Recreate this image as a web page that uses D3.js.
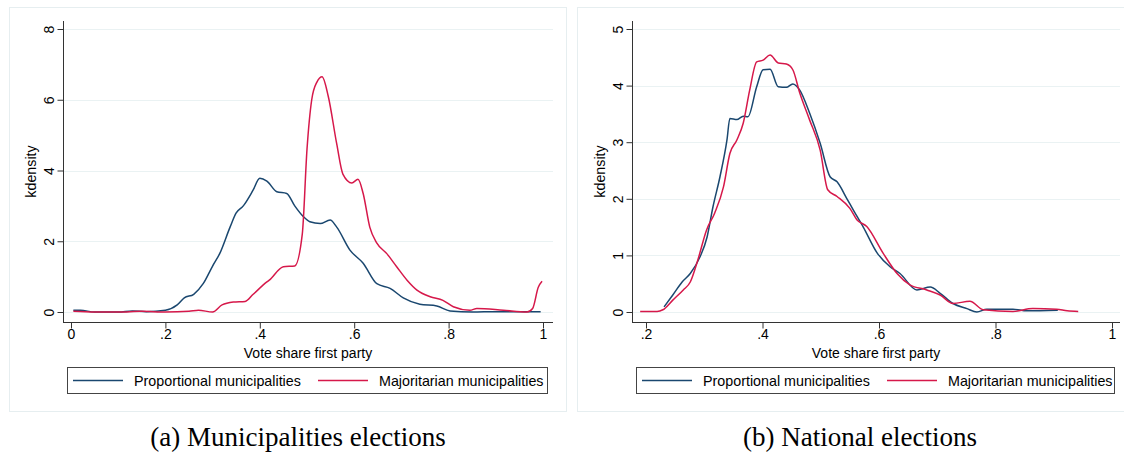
<!DOCTYPE html>
<html>
<head>
<meta charset="utf-8">
<script src="https://cdn.jsdelivr.net/npm/d3@7"></script>
<style>
  body { margin: 0; background: #fff; }
  svg { display: block; }
  text { font-family: "Liberation Sans", Arial, sans-serif; fill: #000; }
  .caption { font-family: "Liberation Serif", "DejaVu Serif", serif; font-size: 27px; }
</style>
</head>
<body>
<svg id="chart" width="1124" height="454"></svg>
<script>
// Legend labels
const seriesNames = ["Proportional municipalities", "Majoritarian municipalities"];

// (a) Municipalities elections: [vote share, kdensity]
const muniProportional = [
  [0.005, 0.05], [0.02, 0.05], [0.05, 0.0], [0.1, 0.0], [0.13, 0.03], [0.16, 0.01],
  [0.2, 0.05], [0.225, 0.2], [0.24, 0.4], [0.26, 0.5], [0.28, 0.8], [0.3, 1.3],
  [0.315, 1.65], [0.337, 2.4], [0.35, 2.8], [0.365, 3.0], [0.386, 3.45], [0.4, 3.78],
  [0.415, 3.7], [0.436, 3.4], [0.457, 3.35], [0.474, 3.0], [0.492, 2.7], [0.506, 2.55],
  [0.528, 2.5], [0.549, 2.6], [0.563, 2.4], [0.591, 1.75], [0.619, 1.38], [0.648, 0.8],
  [0.676, 0.67], [0.704, 0.4], [0.739, 0.22], [0.775, 0.17], [0.803, 0.03], [0.85, 0.0],
  [0.9, 0.01], [0.95, 0.01], [0.995, 0.01]
];
const muniMajoritarian = [
  [0.005, 0.02], [0.05, 0.0], [0.1, 0.0], [0.15, 0.02], [0.2, 0.0], [0.25, 0.02],
  [0.27, 0.05], [0.3, 0.0], [0.32, 0.2], [0.344, 0.28], [0.369, 0.3], [0.386, 0.5],
  [0.415, 0.85], [0.42, 0.9], [0.45, 1.28], [0.474, 1.3], [0.49, 2.2], [0.5, 4.6],
  [0.51, 6.0], [0.521, 6.5], [0.532, 6.65], [0.545, 6.1], [0.563, 4.75], [0.576, 3.9],
  [0.595, 3.65], [0.608, 3.75], [0.619, 3.35], [0.633, 2.4], [0.648, 1.95], [0.669, 1.65],
  [0.69, 1.28], [0.712, 0.9], [0.733, 0.62], [0.761, 0.43], [0.788, 0.33], [0.81, 0.15],
  [0.845, 0.05], [0.86, 0.1], [0.916, 0.05], [0.966, 0.0], [0.978, 0.1], [0.99, 0.7],
  [0.998, 0.87]
];

// (b) National elections
const natProportional = [
  [0.231, 0.09], [0.246, 0.3], [0.262, 0.53], [0.276, 0.68], [0.293, 0.98], [0.305, 1.33],
  [0.315, 1.86], [0.327, 2.39], [0.339, 3.04], [0.344, 3.42], [0.356, 3.4], [0.367, 3.46],
  [0.375, 3.45], [0.39, 3.98], [0.401, 4.28], [0.413, 4.29], [0.427, 3.98], [0.441, 3.97],
  [0.452, 4.03], [0.464, 3.92], [0.481, 3.51], [0.499, 2.98], [0.516, 2.39], [0.528, 2.3],
  [0.545, 2.0], [0.556, 1.8], [0.573, 1.5], [0.597, 1.04], [0.619, 0.8], [0.636, 0.68],
  [0.665, 0.39], [0.688, 0.44], [0.705, 0.33], [0.727, 0.15], [0.751, 0.06], [0.768, 0.0],
  [0.785, 0.05], [0.83, 0.05], [0.854, 0.02], [0.907, 0.03]
];
const natMajoritarian = [
  [0.19, 0.01], [0.219, 0.01], [0.229, 0.04], [0.246, 0.21], [0.264, 0.39], [0.276, 0.53],
  [0.289, 0.92], [0.304, 1.45], [0.318, 1.75], [0.333, 2.21], [0.344, 2.8], [0.356, 3.04],
  [0.367, 3.34], [0.378, 3.92], [0.39, 4.42], [0.401, 4.45], [0.413, 4.54], [0.427, 4.4],
  [0.441, 4.38], [0.452, 4.28], [0.464, 3.87], [0.481, 3.39], [0.499, 2.86], [0.512, 2.16],
  [0.528, 2.04], [0.55, 1.83], [0.562, 1.63], [0.579, 1.51], [0.607, 1.04], [0.631, 0.68],
  [0.653, 0.48], [0.682, 0.39], [0.705, 0.3], [0.727, 0.15], [0.756, 0.19], [0.779, 0.04],
  [0.83, 0.01], [0.864, 0.06], [0.905, 0.05], [0.923, 0.02], [0.942, 0.01]
];

// Tick values
const muniXTicks = [0, 0.2, 0.4, 0.6, 0.8, 1];
const muniYTicks = [0, 2, 4, 6, 8];
const natXTicks = [0.2, 0.4, 0.6, 0.8, 1];
const natYTicks = [0, 1, 2, 3, 4, 5];

const colors = ["#1a476f", "#d6184a"];
const svg = d3.select("#chart");

const fmt = d => d === 0 ? "0" : d === 1 ? "1" : d3.format(".1f")(d).replace(/^0/, "");

function drawPanel(opts) {
  const g = svg.append("g");

  // outer frame
  g.append("rect")
    .attr("x", opts.frame[0] + 0.5).attr("y", opts.frame[1] + 0.5)
    .attr("width", opts.frame[2]).attr("height", opts.frame[3])
    .attr("fill", "none").attr("stroke", "#e6eef0");

  const x = d3.scaleLinear().domain(opts.xDomain).range(opts.xRange);
  const y = d3.scaleLinear().domain(opts.yDomain).range(opts.yRange);

  // gridlines
  g.selectAll(".grid")
    .data(opts.yTicks)
    .enter().append("line")
    .attr("x1", opts.axisX).attr("x2", opts.gridEnd)
    .attr("y1", d => Math.round(y(d)) + 0.5).attr("y2", d => Math.round(y(d)) + 0.5)
    .attr("stroke", "#eaf2f3").attr("stroke-width", 1.2);

  // y axis
  const yAxis = g.append("g")
    .attr("transform", `translate(${opts.axisX + 0.5},0)`)
    .call(d3.axisLeft(y).tickValues(opts.yTicks).tickSize(6).tickPadding(7).tickFormat(d3.format("d")));
  yAxis.select(".domain").attr("d", `M0,${opts.yTop}V${opts.yRange[0] + 10}`).attr("stroke", "#333");
  yAxis.selectAll(".tick line").attr("stroke", "#333");
  yAxis.selectAll(".tick text")
    .attr("font-size", 14)
    .attr("transform", `rotate(-90,-14,0)`)
    .attr("x", -14).attr("dy", "0.35em").attr("text-anchor", "middle")
    .attr("font-family", "Liberation Sans, Arial, sans-serif");

  // x axis
  const xAxis = g.append("g")
    .attr("transform", `translate(0,${opts.axisY + 0.5})`)
    .call(d3.axisBottom(x).tickValues(opts.xTicks).tickSize(6).tickPadding(1).tickFormat(fmt));
  xAxis.select(".domain").attr("d", `M${opts.axisX},0H${opts.gridEnd}`).attr("stroke", "#333");
  xAxis.selectAll(".tick line").attr("stroke", "#333");
  xAxis.selectAll(".tick text").attr("font-size", 14)
    .attr("font-family", "Liberation Sans, Arial, sans-serif");

  // axis titles
  g.append("text")
    .attr("x", (opts.axisX + opts.gridEnd) / 2).attr("y", opts.axisY + 36)
    .attr("text-anchor", "middle").attr("font-size", 14)
    .text("Vote share first party");
  g.append("text")
    .attr("transform", `translate(${opts.axisX - 27},${(opts.yTop + opts.axisY) / 2}) rotate(-90)`)
    .attr("text-anchor", "middle").attr("font-size", 14.3)
    .text("kdensity");

  // density lines
  const line = d3.line()
    .x(d => x(d[0]))
    .y(d => y(d[1]))
    .curve(d3.curveMonotoneX);

  g.selectAll(".series")
    .data(opts.series)
    .enter().append("path")
    .attr("d", line)
    .attr("fill", "none")
    .attr("stroke", (d, i) => colors[i])
    .attr("stroke-width", 1.5)
    .attr("stroke-linejoin", "round");

  // legend
  const lg = g.append("g").attr("transform", `translate(${opts.legend[0]},${opts.legend[1]})`);
  lg.append("rect")
    .attr("x", 0.5).attr("y", 0.5).attr("width", opts.legend[2]).attr("height", 26)
    .attr("fill", "#fff").attr("stroke", "#444");
  const offsets = [6, 251];
  seriesNames.forEach((name, i) => {
    lg.append("line")
      .attr("x1", offsets[i]).attr("x2", offsets[i] + 50)
      .attr("y1", 13.5).attr("y2", 13.5)
      .attr("stroke", colors[i]).attr("stroke-width", 1.5);
    lg.append("text")
      .attr("x", offsets[i] + 61).attr("y", 14).attr("dy", "0.35em")
      .attr("font-size", 14.3)
      .text(name);
  });

  // caption
  svg.append("text")
    .attr("class", "caption")
    .attr("x", opts.captionX).attr("y", 446)
    .attr("text-anchor", "middle")
    .text(opts.caption);
}

drawPanel({
  frame: [9, 7, 557, 404],
  xDomain: [0, 1], xRange: [71, 543],
  yDomain: [0, 8], yRange: [312, 29],
  xTicks: muniXTicks, yTicks: muniYTicks,
  axisX: 63, axisY: 322, yTop: 21, gridEnd: 553,
  series: [muniProportional, muniMajoritarian],
  legend: [67, 367, 480],
  caption: "(a) Municipalities elections", captionX: 298
});

drawPanel({
  frame: [577, 7, 560, 404],
  xDomain: [0.2, 1], xRange: [646, 1112],
  yDomain: [0, 5], yRange: [312, 29],
  xTicks: natXTicks, yTicks: natYTicks,
  axisX: 632, axisY: 322, yTop: 21, gridEnd: 1120,
  series: [natProportional, natMajoritarian],
  legend: [636, 367, 478],
  caption: "(b) National elections", captionX: 860
});
</script>
</body>
</html>
